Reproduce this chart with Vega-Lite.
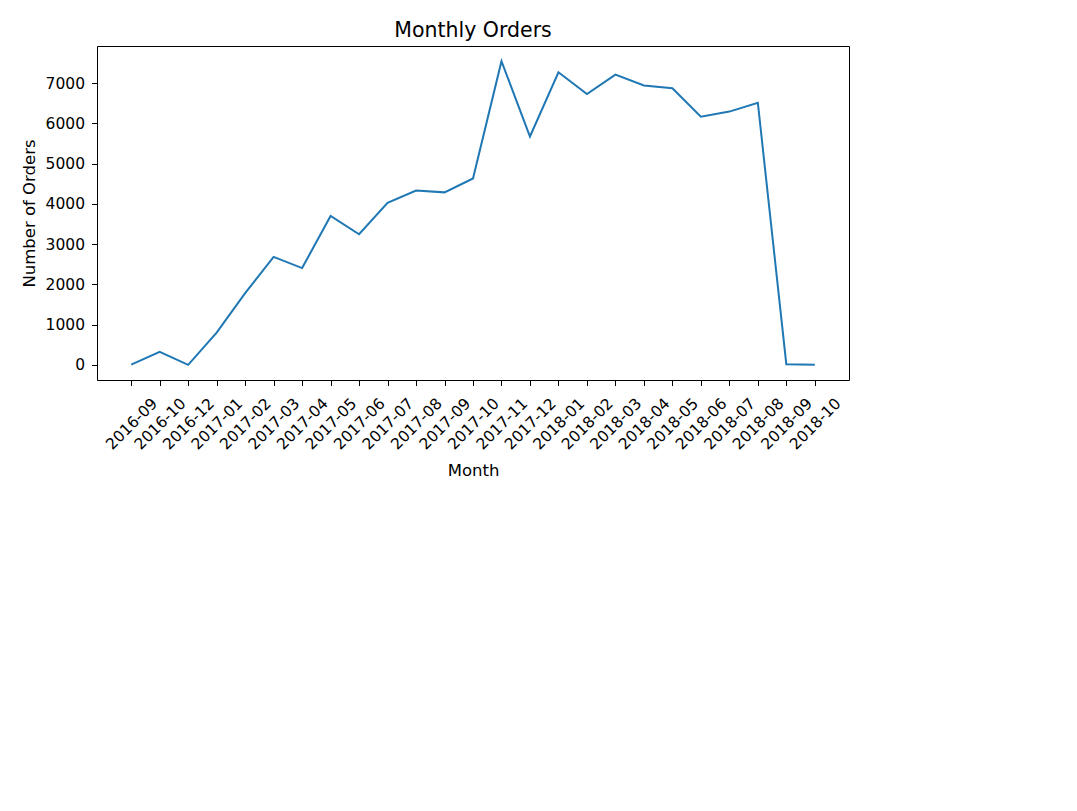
{
  "$schema": "https://vega.github.io/schema/vega-lite/v6.json",
  "width": 752,
  "height": 334,
  "autosize": {"type": "none"},
  "padding": {"left": 97, "top": 46, "right": 16, "bottom": 113},
  "background": "white",
  "title": {
    "text": "Monthly Orders",
    "font": "DejaVu Sans",
    "fontSize": 20.5,
    "fontWeight": "normal",
    "color": "black",
    "anchor": "middle",
    "baseline": "alphabetic",
    "offset": -11
  },
  "data": {
    "values": [
      {"month": "2016-09", "orders": 4},
      {"month": "2016-10", "orders": 324},
      {"month": "2016-12", "orders": 1},
      {"month": "2017-01", "orders": 800},
      {"month": "2017-02", "orders": 1780},
      {"month": "2017-03", "orders": 2682},
      {"month": "2017-04", "orders": 2404},
      {"month": "2017-05", "orders": 3700},
      {"month": "2017-06", "orders": 3245},
      {"month": "2017-07", "orders": 4026},
      {"month": "2017-08", "orders": 4331},
      {"month": "2017-09", "orders": 4285},
      {"month": "2017-10", "orders": 4631},
      {"month": "2017-11", "orders": 7544},
      {"month": "2017-12", "orders": 5673},
      {"month": "2018-01", "orders": 7269},
      {"month": "2018-02", "orders": 6728},
      {"month": "2018-03", "orders": 7211},
      {"month": "2018-04", "orders": 6939},
      {"month": "2018-05", "orders": 6873},
      {"month": "2018-06", "orders": 6167},
      {"month": "2018-07", "orders": 6292},
      {"month": "2018-08", "orders": 6512},
      {"month": "2018-09", "orders": 16},
      {"month": "2018-10", "orders": 4}
    ]
  },
  "mark": {"type": "line", "color": "#1f77b4", "strokeWidth": 2},
  "encoding": {
    "x": {
      "field": "month",
      "type": "ordinal",
      "scale": {"type": "point", "padding": 0, "range": [34.2, 717.8]},
      "title": "Month",
      "axis": {
        "labelAngle": -45,
        "labelAlign": "center",
        "labelBaseline": "middle",
        "labelPadding": 38,
        "labelOverlap": false,
        "titlePadding": 10
      }
    },
    "y": {
      "field": "orders",
      "type": "quantitative",
      "scale": {"domain": [-376.15, 7921.15], "nice": false, "zero": false},
      "title": "Number of Orders",
      "axis": {
        "values": [0, 1000, 2000, 3000, 4000, 5000, 6000, 7000],
        "format": "d",
        "titlePadding": 8
      }
    }
  },
  "config": {
    "view": {"stroke": "black", "strokeWidth": 1},
    "axis": {
      "grid": false,
      "domain": false,
      "ticks": true,
      "tickColor": "black",
      "tickSize": 5.5,
      "tickWidth": 1,
      "labelFont": "DejaVu Sans",
      "labelFontSize": 15.5,
      "labelColor": "black",
      "labelPadding": 7,
      "titleFont": "DejaVu Sans",
      "titleFontSize": 16.5,
      "titleFontWeight": "normal",
      "titleColor": "black"
    }
  }
}
